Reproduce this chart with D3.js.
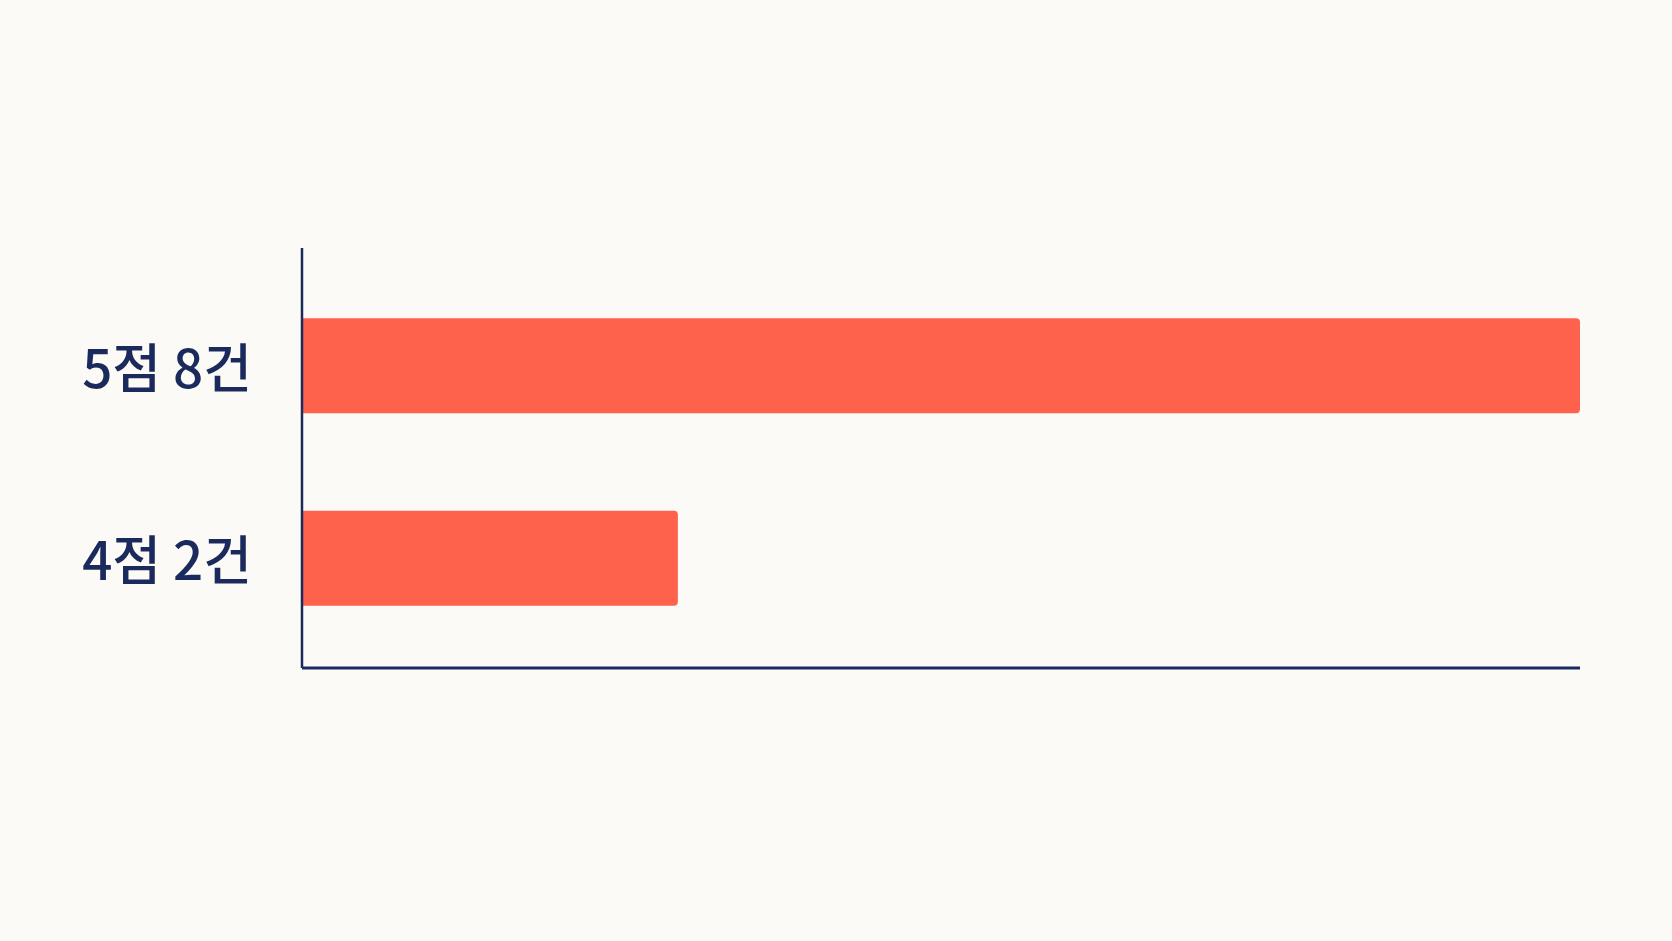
<!DOCTYPE html>
<html>
<head>
<meta charset="utf-8">
<script src="https://cdn.jsdelivr.net/npm/d3@7"></script>
<style>
  html, body { margin: 0; padding: 0; background: #fcfaf6; }
  svg { display: block; }
</style>
</head>
<body>
<div id="chart"></div>
<script>
// rating groups and how many reviews fall into each
const ratings = ["5점", "4점"];
const counts = [8, 2];

const W = 1672, H = 941;
const margin = { top: 248, right: 92, bottom: 273, left: 302 };
const width = W - margin.left - margin.right;
const height = H - margin.top - margin.bottom;

const data = ratings.map((r, i) => ({ label: r + " " + counts[i] + "건", value: counts[i] }));

const svg = d3.select("#chart")
    .append("svg")
    .attr("width", W)
    .attr("height", H);

svg.append("rect").attr("width", W).attr("height", H).attr("fill", "#fcfaf6");

const g = svg.append("g")
    .attr("transform", `translate(${margin.left},${margin.top})`);

// bars start a little before zero in the original
const xScale = d3.scaleLinear()
    .domain([-0.5, d3.max(counts)])
    .range([0, width]);

const yScale = d3.scaleBand()
    .domain(data.map(d => d.label))
    .range([0, height])
    .paddingInner(0.506)
    .paddingOuter(0.344)
    .align(0.53);

// bars: square on the axis side, slightly rounded on the right
const r = 4;
g.selectAll("path.bar")
    .data(data)
    .enter()
    .append("path")
    .attr("class", "bar")
    .attr("fill", "#ff624c")
    .attr("d", d => {
        const x0 = xScale.range()[0] + 1, x1 = xScale(d.value);
        const y0 = yScale(d.label), y1 = y0 + yScale.bandwidth();
        return `M${x0},${y0}H${x1 - r}Q${x1},${y0} ${x1},${y0 + r}V${y1 - r}Q${x1},${y1} ${x1 - r},${y1}H${x0}Z`;
    });

const yAxis = d3.axisLeft(yScale).tickSize(0).tickPadding(50);
const ya = g.append("g").call(yAxis);
ya.select(".domain").remove();
ya.selectAll("text")
    .attr("fill", "#1b2a5c")
    .attr("dy", "0.42em")
    .attr("font-family", "'Noto Sans CJK KR', 'Noto Sans', sans-serif")
    .attr("font-weight", 500)
    .attr("font-size", 53);

// axis lines
g.append("line")
    .attr("x1", 0).attr("x2", 0)
    .attr("y1", 0).attr("y2", height)
    .attr("stroke", "#1b2a5c").attr("stroke-width", 2.5);

g.append("line")
    .attr("x1", 0).attr("x2", width)
    .attr("y1", height).attr("y2", height)
    .attr("stroke", "#1b2a5c").attr("stroke-width", 3);
</script>
</body>
</html>
